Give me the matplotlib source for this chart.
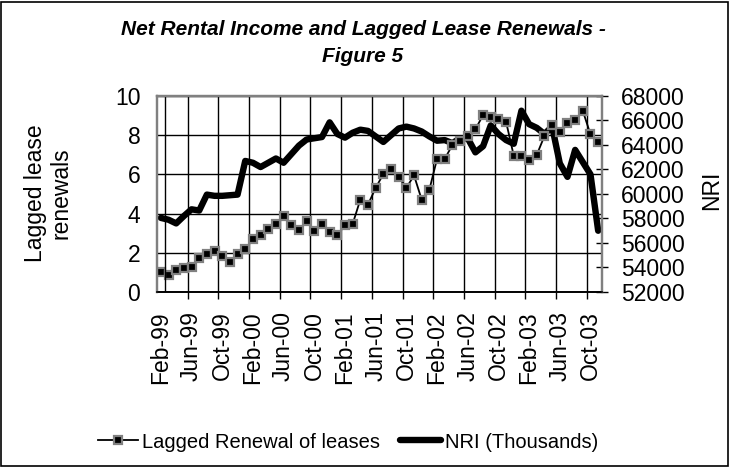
import numpy as np
import pandas as pd
import matplotlib
matplotlib.use('Agg')
import matplotlib.pyplot as plt
from matplotlib.lines import Line2D
from matplotlib.patches import Rectangle

plt.rcParams['font.family'] = ['Liberation Sans', 'DejaVu Sans']

# monthly data, Feb-99 .. Nov-03
months = pd.date_range('1999-02-01', periods=58, freq='MS')
tick_labels = ['Feb-99', 'Jun-99', 'Oct-99', 'Feb-00', 'Jun-00', 'Oct-00', 'Feb-01', 'Jun-01',
               'Oct-01', 'Feb-02', 'Jun-02', 'Oct-02', 'Feb-03', 'Jun-03', 'Oct-03']

renewals = [1.00, 0.88, 1.14, 1.22, 1.29, 1.73, 1.96, 2.07, 1.84, 1.53,
            1.96, 2.19, 2.70, 2.92, 3.21, 3.47, 3.86, 3.43, 3.15, 3.61,
            3.10, 3.47, 3.06, 2.92, 3.40, 3.47, 4.71, 4.46, 5.31, 6.02,
            6.29, 5.85, 5.31, 5.95, 4.71, 5.22, 6.79, 6.79, 7.50, 7.72,
            7.96, 8.30, 9.03, 8.95, 8.84, 8.68, 6.95, 6.95, 6.74, 7.00,
            7.96, 8.51, 8.17, 8.62, 8.77, 9.24, 8.04, 7.63]

nri = [58050, 57900, 57600, 58200, 58750, 58650, 59950, 59850, 59850, 59900,
       59950, 62700, 62550, 62200, 62550, 62900, 62550, 63250, 63950, 64450,
       64550, 64650, 65850, 64900, 64600, 65000, 65250, 65150, 64700, 64250,
       64800, 65350, 65500, 65350, 65100, 64700, 64350, 64400, 64150, 64550,
       64550, 63400, 63900, 65600, 64900, 64400, 64100, 66800, 65700, 65400,
       64900, 65500, 62500, 61400, 63600, 62600, 61600, 57000]

FS = 16.5
gray = '#808080'

fig = plt.figure(figsize=(7.3, 4.68), dpi=100)
ax = fig.add_axes([157/730, 176/468, 445/730, 196/468])
ax2 = ax.twinx()
ax.set_zorder(ax2.get_zorder() + 1)
ax.patch.set_visible(False)

x = np.arange(len(months))
l1, = ax.plot(x, renewals, color='black', lw=1.3, marker='s', ms=5.5,
              mfc='black', mec=gray, mew=1.6, label='Lagged Renewal of leases')
l2, = ax2.plot(x, nri, color='black', lw=4.6, solid_joinstyle='round',
               solid_capstyle='round', label='NRI (Thousands)')

ax.set_xlim(-0.5, len(months) - 0.5)
ax.set_ylim(0, 10)
ax.set_yticks(range(0, 11, 2))
ax2.set_ylim(52000, 68000)
ax2.set_yticks(range(52000, 68001, 2000))

ax.set_xticks(x[::4])
ax.set_xticklabels(tick_labels, rotation=90)
ax.set_xticks(np.arange(3.5, len(months) - 1, 4), minor=True)
ax.tick_params(axis='x', which='major', length=0, pad=14, labelsize=FS)
ax.tick_params(axis='x', which='minor', length=5, width=1, color='black', direction='out')
ax.tick_params(axis='y', length=0, pad=12, labelsize=FS)
ax2.tick_params(axis='y', direction='inout', length=9, width=1, color='black', pad=9, labelsize=FS)

ax.yaxis.grid(True, color='black', lw=1)
ax.xaxis.grid(True, which='minor', color='black', lw=1)
ax.axvline(0.5, color='black', lw=1)

for a in (ax, ax2):
    for side in ('left', 'top', 'right'):
        a.spines[side].set_color(gray)
        a.spines[side].set_linewidth(1.6)
    a.spines['bottom'].set_color('black')
    a.spines['bottom'].set_linewidth(1.2)

fig.text(363/730, 1 - 43/468, 'Net Rental Income and Lagged Lease Renewals -\nFigure 5',
         ha='center', va='center', fontsize=15, fontweight='bold', fontstyle='italic',
         linespacing=1.5)
fig.text(48/730, 1 - 193/468, 'Lagged lease\nrenewals', rotation=90, ha='center',
         va='center', fontsize=FS, linespacing=1.15)
fig.text(712/730, 1 - 190/468, 'NRI', rotation=90, ha='center', va='center', fontsize=FS)

fig.legend(handles=[l1, l2], loc='center', bbox_to_anchor=(348/730, 1 - 442/468),
           ncol=2, frameon=False, fontsize=14.5, handlelength=2.0, handletextpad=0.2,
           columnspacing=1.0)

fig.patches.append(Rectangle((1/730, 2/468), 727/730, 464/468, transform=fig.transFigure,
                             fill=False, ec='black', lw=1.2))

fig.savefig('out.png', dpi=100)
